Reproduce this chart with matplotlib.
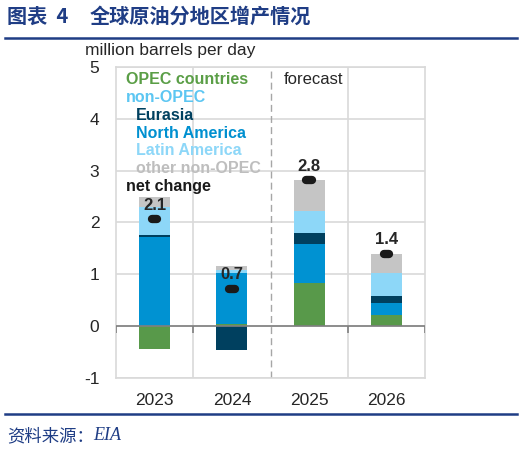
import matplotlib
matplotlib.use("Agg")
import matplotlib.pyplot as plt
import numpy as np

plt.rcParams['font.family'] = ['Liberation Sans', 'DejaVu Sans']

years = ["2023", "2024", "2025", "2026"]
opec = [-0.45, 0.05, 0.84, 0.21]
north_america = [1.72, 0.98, 0.75, 0.24]
eurasia = [0.03, -0.46, 0.21, 0.14]
latin_america = [0.54, 0.05, 0.43, 0.43]
other_non_opec = [0.21, 0.09, 0.59, 0.38]
net_change = [2.06, 0.72, 2.82, 1.40]
net_labels = ["2.1", "0.7", "2.8", "1.4"]

series = [
    ("OPEC countries", opec, "#58994A"),
    ("North America", north_america, "#0092D2"),
    ("Eurasia", eurasia, "#00405F"),
    ("Latin America", latin_america, "#8DD7F8"),
    ("other non-OPEC", other_non_opec, "#C5C5C5"),
]

fig = plt.figure(figsize=(5.24, 4.5), dpi=100)
ax = fig.add_axes([116/524, 1-378/450, 309/524, 311/450])

x = np.arange(len(years)) + 0.5
width = 0.4
pos_base = np.zeros(len(years))
neg_base = np.zeros(len(years))
for name, vals, col in series:
    vals = np.array(vals)
    bottoms = np.where(vals >= 0, pos_base, neg_base)
    ax.bar(x, vals, width=width, bottom=bottoms, color=col, zorder=3, linewidth=0)
    pos_base = pos_base + np.where(vals >= 0, vals, 0)
    neg_base = neg_base + np.where(vals < 0, vals, 0)

ax.hlines(net_change, x - 0.035, x + 0.035, colors="#1a1a1a", linewidth=6,
          capstyle="round", zorder=5)
for xi, v, lab in zip(x, net_change, net_labels):
    ax.annotate(lab, (xi, v), xytext=(0, 10), textcoords="offset points",
                ha="center", va="center", fontsize=12, fontweight="bold",
                color="#262626", zorder=6)

ax.set_xlim(0, 4)
ax.set_ylim(-1, 5)
ax.set_yticks(range(-1, 6))
ax.set_yticklabels([str(v) for v in range(-1, 6)], fontsize=12.5, color="#262626")
ax.set_xticks(x)
ax.set_xticklabels(years, fontsize=12.5, color="#262626")
ax.tick_params(axis="y", length=0, pad=12)
ax.tick_params(axis="x", length=0, pad=11)

for yv in range(-1, 6):
    ax.axhline(yv, color="#d9d9d9", linewidth=1.2, zorder=1)
for xv in [1, 3]:
    ax.axvline(xv, color="#d9d9d9", linewidth=1.2, zorder=1)
ax.axvline(2, color="#a6a6a6", linewidth=1.0, linestyle=(0, (5, 3)), zorder=2)
ax.axhline(0, color="#7f7f7f", linewidth=1.2, zorder=4)
ax.vlines([0, 1, 3, 4], -0.13, 0, colors="#7f7f7f", linewidth=1.2, zorder=4)

for s in ax.spines.values():
    s.set_color("#d9d9d9")
    s.set_linewidth(1.2)

# legend as text
leg = [
    ("OPEC countries", "#5A9E46", 0.0),
    ("non-OPEC", "#5CC6F2", 0.0),
    ("Eurasia", "#00405F", 0.13),
    ("North America", "#0090D0", 0.13),
    ("Latin America", "#8DD7F8", 0.13),
    ("other non-OPEC", "#BEBEBE", 0.13),
    ("net change", "#1a1a1a", 0.0),
]
y0 = 4.76
for i, (t, c, dx) in enumerate(leg):
    ax.text(0.13 + dx, y0 - i * 0.345, t, color=c, fontsize=11.5,
            fontweight="bold", ha="left", va="center", zorder=2)

ax.text(2.17, 4.76, "forecast", fontsize=12, color="#262626", ha="left", va="center")

fig.text(85/524, 1-51/450, "million barrels per day", fontsize=12.5,
         color="#262626", ha="left", va="center")

title_col = "#1F3D85"
cjk = ["Noto Sans CJK SC", "DejaVu Sans"]
fig.text(7/524, 1-16/450, "图表  4", fontsize=14.5, fontweight="bold",
         color=title_col, ha="left", va="center", family=cjk)
fig.text(90/524, 1-16/450, "全球原油分地区增产情况", fontsize=14.5, fontweight="bold",
         color=title_col, ha="left", va="center", family=cjk)
fig.add_artist(plt.Line2D([5/524, 517/524], [1-38/450, 1-38/450],
                          color=title_col, linewidth=1.8, transform=fig.transFigure))
fig.add_artist(plt.Line2D([5/524, 517/524], [1-414/450, 1-414/450],
                          color=title_col, linewidth=1.8, transform=fig.transFigure))
fig.text(7/524, 1-436/450, "资料来源：", fontsize=12.5,
         color=title_col, ha="left", va="center", family=cjk)
fig.text(93/524, 1-436/450, "EIA", fontsize=13, style="italic",
         color=title_col, ha="left", va="center",
         family=["Liberation Serif", "DejaVu Serif"])

fig.savefig("out.png", dpi=100)
